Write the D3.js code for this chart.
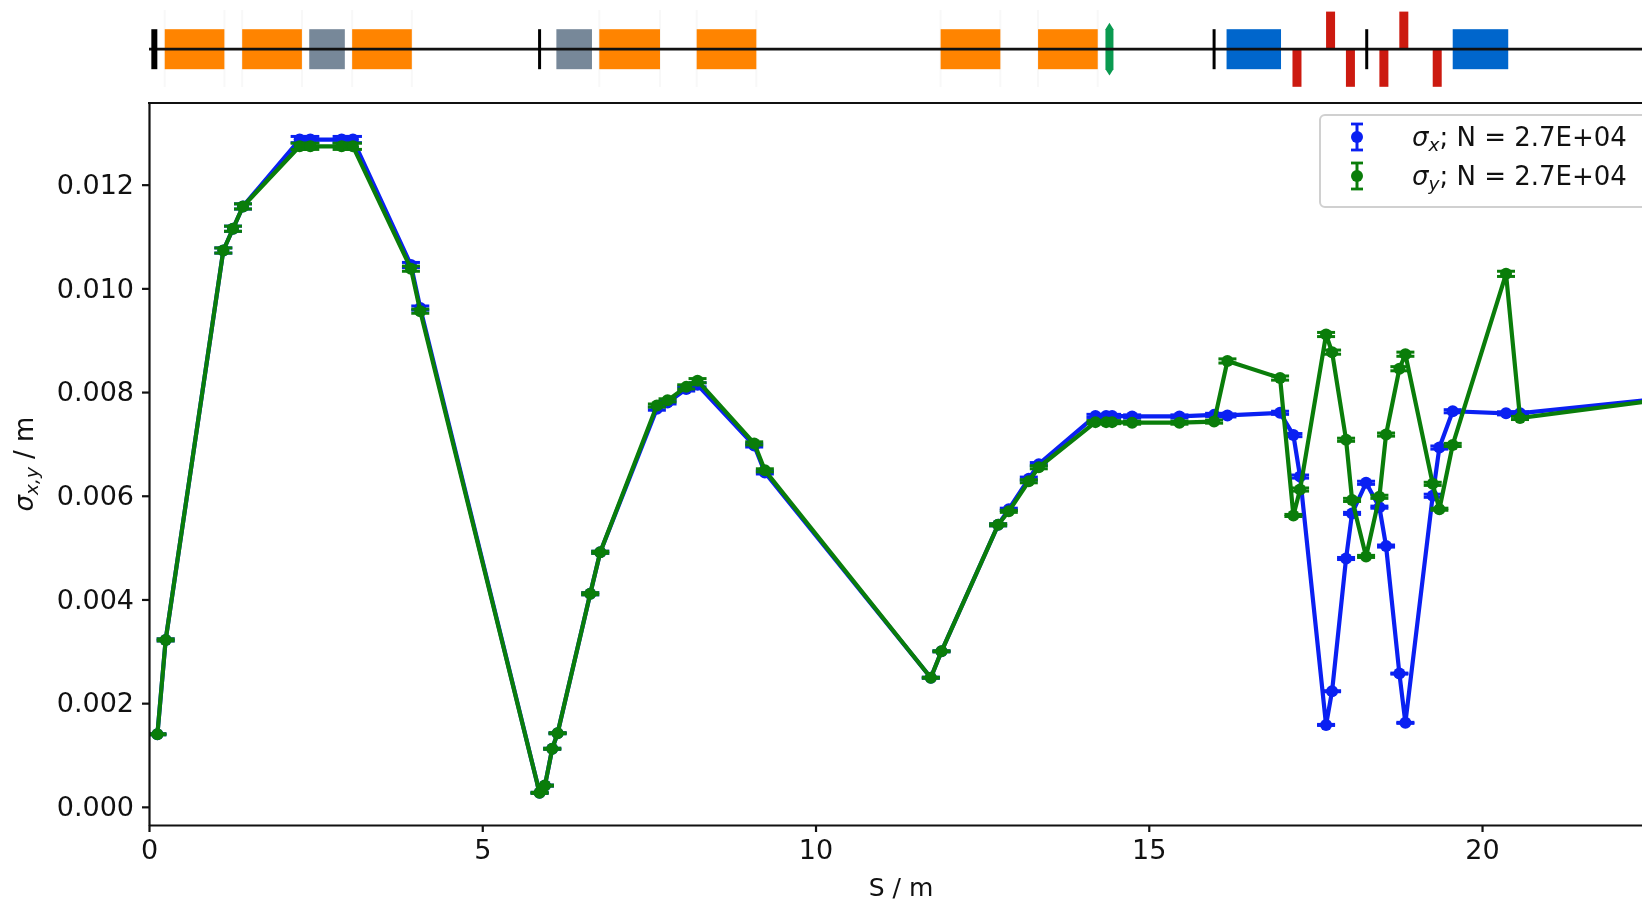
<!DOCTYPE html>
<html>
<head>
<meta charset="utf-8">
<script src="https://cdn.jsdelivr.net/npm/d3@7"></script>
<style>
  html, body { margin: 0; padding: 0; background: #fff; overflow: hidden; }
  svg { display: block; filter: blur(0.7px); }
  text { font-family: "DejaVu Sans", sans-serif; fill: #111; }
</style>
</head>
<body>
<div id="chart"></div>
<script>
// Beam position S / m
const sPos = [0.126, 0.25, 1.115, 1.26, 1.41, 2.26, 2.42, 2.89, 3.06, 3.93, 4.07, 5.86, 5.94, 6.05, 6.13, 6.62, 6.77,
  7.62, 7.78, 8.06, 8.23, 9.08, 9.24, 11.73, 11.89, 12.74, 12.9, 13.2, 13.35, 14.2, 14.36, 14.45, 14.75, 15.46, 15.98,
  16.18, 16.97, 17.17, 17.27, 17.66, 17.75, 17.96, 18.05, 18.26, 18.46, 18.56, 18.76, 18.85, 19.26, 19.36, 19.56,
  20.36, 20.57, 22.6];

const sigmaX = [0.0014, 0.00322, 0.01073, 0.01115, 0.01158, 0.01287, 0.01287, 0.01287, 0.01287, 0.01045, 0.00962, 0.00027, 0.00041, 0.00112, 0.00142, 0.00411, 0.00491,
  0.00768, 0.0078, 0.00806, 0.00814, 0.00697, 0.00645, 0.00249, 0.003, 0.00544, 0.00574, 0.00633, 0.00661, 0.00754, 0.00754, 0.00754, 0.00753, 0.00753, 0.00756,
  0.00755, 0.0076, 0.00717, 0.00637, 0.00158, 0.00223, 0.00479, 0.00566, 0.00625, 0.00578, 0.00503, 0.00257, 0.00162, 0.006, 0.00693, 0.00763,
  0.00759, 0.00759, 0.00786];

const sigmaY = [0.0014, 0.00322, 0.01073, 0.01115, 0.01158, 0.01274, 0.01274, 0.01274, 0.01274, 0.01038, 0.00956, 0.00027, 0.00041, 0.00112, 0.00142, 0.00411, 0.00491,
  0.00774, 0.00784, 0.0081, 0.00822, 0.00701, 0.00649, 0.00249, 0.003, 0.00544, 0.0057, 0.00628, 0.00655, 0.00742, 0.00742, 0.00742, 0.00741, 0.00741, 0.00743,
  0.0086, 0.00827, 0.00562, 0.00612, 0.00911, 0.00877, 0.00708, 0.00592, 0.00483, 0.00598, 0.00718, 0.00845, 0.00873, 0.00623, 0.00574, 0.00698,
  0.01028, 0.0075, 0.00784];

// Error bars, small everywhere
const errX = [0.00001, 0.00002, 0.00005, 0.00005, 0.00005, 0.00006, 0.00006, 0.00006, 0.00006, 0.00005, 0.00004, 0.00001, 0.00001, 0.00001, 0.00001, 0.00002, 0.00002,
  0.00003, 0.00003, 0.00004, 0.00004, 0.00003, 0.00003, 0.00001, 0.00001, 0.00002, 0.00002, 0.00003, 0.00003, 0.00003, 0.00003, 0.00003, 0.00003, 0.00003, 0.00003,
  0.00003, 0.00003, 0.00003, 0.00003, 0.00001, 0.00001, 0.00002, 0.00002, 0.00003, 0.00002, 0.00002, 0.00001, 0.00001, 0.00003, 0.00003, 0.00003,
  0.00003, 0.00003, 0.00003];
const errY = [0.00001, 0.00002, 0.00005, 0.00005, 0.00005, 0.00006, 0.00006, 0.00006, 0.00006, 0.00005, 0.00004, 0.00001, 0.00001, 0.00001, 0.00001, 0.00002, 0.00002,
  0.00003, 0.00003, 0.00004, 0.00004, 0.00003, 0.00003, 0.00001, 0.00001, 0.00002, 0.00002, 0.00003, 0.00003, 0.00003, 0.00003, 0.00003, 0.00003, 0.00003, 0.00003,
  0.00004, 0.00004, 0.00002, 0.00003, 0.00004, 0.00004, 0.00003, 0.00003, 0.00002, 0.00003, 0.00003, 0.00004, 0.00004, 0.00003, 0.00002, 0.00003,
  0.00005, 0.00003, 0.00003];

// Machine layout above the plot, in S / m
const dipoles = [[0.236, 1.131], [1.398, 2.294], [3.048, 3.943], [6.756, 7.667], [8.217, 9.112], [11.877, 12.773], [13.339, 14.234]];
const greyBoxes = [[2.404, 2.938], [6.112, 6.646]];
const blueBoxes = [[16.167, 16.984], [19.56, 20.393]];
const quadStart = [17.156, 17.66, 17.958, 18.46, 18.759, 19.26];
const quadSign = [-1, 1, -1, -1, 1, -1];
const screens = [5.86, 15.98, 18.27];
const thickScreen = 0.08;
const lensPos = 14.41;

const xTicks = [0, 5, 10, 15, 20];
const yTicks = [0, 0.002, 0.004, 0.006, 0.008, 0.01, 0.012];
const legendText = "; N = 2.7E+04";

const width = 1642, height = 903;
const left = 149, top_ = 103, bottom = 825;
const blue = "#0a20f2", green = "#0a7d0a";
const fontSize = 27;

const x = d3.scaleLinear().domain([0, 22.4]).range([left, width]);
const y = d3.scaleLinear().domain([-0.00035, 0.013575]).range([bottom, top_]);
const yLine = d3.scaleLinear().domain([-1, 1]).range([89.2, 9.2]); // beamline strip

const svg = d3.select("#chart").append("svg")
  .attr("width", width)
  .attr("height", height);

// Beamline strip
const strip = svg.append("g");

// faint edges round the dipoles
dipoles.forEach(d => {
  d.forEach(v => {
    strip.append("line")
      .attr("x1", x(v)).attr("x2", x(v))
      .attr("y1", 10).attr("y2", 87)
      .attr("stroke", "#f8f8f8").attr("stroke-width", 2);
  });
});

function boxes(list, color) {
  strip.selectAll(null).data(list).enter().append("rect")
    .attr("x", d => x(d[0]))
    .attr("width", d => x(d[1]) - x(d[0]))
    .attr("y", yLine(0.5))
    .attr("height", yLine(-0.5) - yLine(0.5))
    .attr("fill", color);
}
boxes(dipoles, "#ff8400");
boxes(greyBoxes, "#778899");
boxes(blueBoxes, "#0066cc");

strip.selectAll(null).data(quadStart).enter().append("rect")
  .attr("x", d => x(d))
  .attr("width", x(0.135) - x(0))
  .attr("y", (d, i) => quadSign[i] > 0 ? yLine(0.94) : yLine(0))
  .attr("height", yLine(0) - yLine(0.94))
  .attr("fill", "#cc1a10");

// thin lens
const lensX = x(lensPos);
strip.append("path")
  .attr("d", d3.line()([[lensX - 4, yLine(0.5)], [lensX, yLine(0.66)], [lensX + 4, yLine(0.5)],
    [lensX + 4, yLine(-0.5)], [lensX, yLine(-0.66)], [lensX - 4, yLine(-0.5)]]) + "Z")
  .attr("fill", "#0a9a50");

// beam pipe
strip.append("line")
  .attr("x1", left).attr("x2", width)
  .attr("y1", yLine(0)).attr("y2", yLine(0))
  .attr("stroke", "#111").attr("stroke-width", 2.8);

strip.selectAll(null).data(screens).enter().append("line")
  .attr("x1", d => x(d)).attr("x2", d => x(d))
  .attr("y1", yLine(0.5)).attr("y2", yLine(-0.5))
  .attr("stroke", "#000").attr("stroke-width", 3);
strip.append("line")
  .attr("x1", x(thickScreen)).attr("x2", x(thickScreen))
  .attr("y1", yLine(0.5)).attr("y2", yLine(-0.5))
  .attr("stroke", "#000").attr("stroke-width", 6);

// Axes
svg.append("defs").append("clipPath").attr("id", "plot-clip")
  .append("rect").attr("x", left).attr("y", top_)
  .attr("width", width - left).attr("height", bottom - top_);

function drawSeries(values, errs, color) {
  const g = svg.append("g").attr("clip-path", "url(#plot-clip)");
  const line = d3.line().x((d, i) => x(sPos[i])).y(d => y(d));

  g.append("path")
    .attr("d", line(values))
    .attr("fill", "none")
    .attr("stroke", color)
    .attr("stroke-width", 4.2)
    .attr("stroke-linejoin", "round");

  const pts = g.selectAll(null).data(values).enter().append("g");
  pts.append("line")
    .attr("x1", (d, i) => x(sPos[i])).attr("x2", (d, i) => x(sPos[i]))
    .attr("y1", (d, i) => y(d - errs[i])).attr("y2", (d, i) => y(d + errs[i]))
    .attr("stroke", color).attr("stroke-width", 3);
  [-1, 1].forEach(side => {
    pts.append("line")
      .attr("x1", (d, i) => x(sPos[i]) - 9).attr("x2", (d, i) => x(sPos[i]) + 9)
      .attr("y1", (d, i) => y(d + side * errs[i])).attr("y2", (d, i) => y(d + side * errs[i]))
      .attr("stroke", color).attr("stroke-width", 3);
  });
  pts.append("circle")
    .attr("cx", (d, i) => x(sPos[i]))
    .attr("cy", d => y(d))
    .attr("r", 6)
    .attr("fill", color);
}
drawSeries(sigmaX, errX, blue);
drawSeries(sigmaY, errY, green);

const xAxis = d3.axisBottom(x).tickValues(xTicks).tickFormat(d3.format("d")).tickSize(7).tickSizeOuter(0).tickPadding(8);
const yAxis = d3.axisLeft(y).tickValues(yTicks).tickFormat(d3.format(".3f")).tickSize(7).tickSizeOuter(0).tickPadding(8);

const gx = svg.append("g").attr("transform", `translate(0,${bottom})`).call(xAxis);
const gy = svg.append("g").attr("transform", `translate(${left},0)`).call(yAxis);
[gx, gy].forEach(a => {
  a.selectAll("text").attr("font-size", fontSize).attr("font-family", '"DejaVu Sans", sans-serif').attr("fill", "#111");
  a.selectAll("line").attr("stroke", "#111").attr("stroke-width", 2.2);
  a.select(".domain").attr("stroke", "#111").attr("stroke-width", 2.2);
});
svg.append("line")
  .attr("x1", left - 1).attr("x2", width)
  .attr("y1", top_).attr("y2", top_)
  .attr("stroke", "#111").attr("stroke-width", 2.2);

// Axis titles
svg.append("text")
  .attr("x", 901).attr("y", 896)
  .attr("text-anchor", "middle")
  .attr("font-size", 25)
  .text("S / m");

const yTitle = svg.append("text")
  .attr("transform", "translate(33,464) rotate(-90)")
  .attr("text-anchor", "middle")
  .attr("font-size", 26);
yTitle.append("tspan").attr("font-style", "italic").text("σ");
yTitle.append("tspan").attr("font-style", "italic").attr("font-size", 18.5).attr("dy", 5).text("x,y");
yTitle.append("tspan").attr("dy", -5).text(" / m");

// Legend, cut by the right page edge like the rest
const legend = svg.append("g");
legend.append("rect")
  .attr("x", 1320).attr("y", 115)
  .attr("width", 340).attr("height", 92)
  .attr("rx", 5)
  .attr("fill", "#fff")
  .attr("stroke", "#d0d0d0")
  .attr("stroke-width", 2);

[[blue, 137, "x"], [green, 176, "y"]].forEach(([color, cy, sub]) => {
  const lx = 1357;
  legend.append("line").attr("x1", lx).attr("x2", lx).attr("y1", cy - 13).attr("y2", cy + 13)
    .attr("stroke", color).attr("stroke-width", 3);
  [-13, 13].forEach(dy => {
    legend.append("line").attr("x1", lx - 6).attr("x2", lx + 6).attr("y1", cy + dy).attr("y2", cy + dy)
      .attr("stroke", color).attr("stroke-width", 2.8);
  });
  legend.append("circle").attr("cx", lx).attr("cy", cy).attr("r", 6).attr("fill", color);
  const t = legend.append("text").attr("x", 1412).attr("y", cy + 9).attr("font-size", 26);
  t.append("tspan").attr("font-style", "italic").text("σ");
  t.append("tspan").attr("font-style", "italic").attr("font-size", 18.5).attr("dy", 5).text(sub);
  t.append("tspan").attr("dy", -5).text(legendText);
});
</script>
</body>
</html>
